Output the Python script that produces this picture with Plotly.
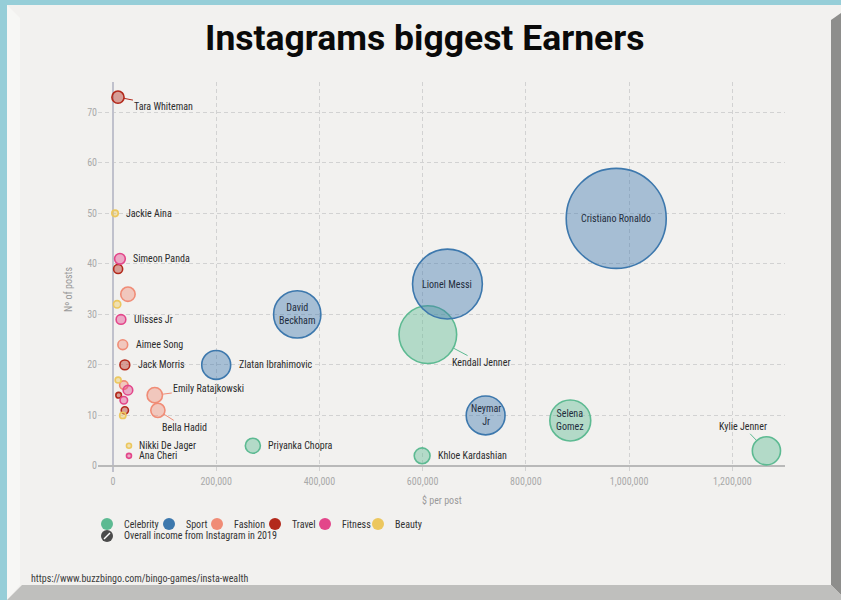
import plotly.graph_objects as go

# ---------------- data ----------------
names = ["Cristiano Ronaldo", "Lionel Messi", "Kendall Jenner", "David Beckham",
         "Selena Gomez", "Neymar Jr", "Zlatan Ibrahimovic", "Kylie Jenner",
         "Khloe Kardashian", "Priyanka Chopra", "Emily Ratajkowski", "Bella Hadid",
         "Tara Whiteman", "Jackie Aina", "Simeon Panda", "", "", "",
         "Ulisses Jr", "Aimee Song", "Jack Morris", "", "", "", "", "", "", "",
         "Nikki De Jager", "Ana Cheri"]
price_per_post = [975000, 648000, 610000, 357000,
                  886000, 722000, 200000, 1266000,
                  599000, 271000, 81000, 87000,
                  9700, 4000, 13500, 10000, 29000, 8000,
                  15500, 19000, 23000, 10000, 21000, 29000, 11000, 21000, 23000, 19000,
                  31000, 31000]
posts = [49, 36, 26, 30,
         9, 10, 20, 3,
         2, 4, 14, 11,
         73, 50, 41, 39, 34, 32,
         29, 24, 20, 17, 16, 15, 14, 13, 11, 10,
         4, 2]
income_musd = [47.8, 23.3, 15.9, 10.7,
               8.0, 7.2, 4.0, 3.8,
               1.2, 1.08, 1.13, 0.96,
               0.71, 0.2, 0.55, 0.39, 0.99, 0.26,
               0.45, 0.46, 0.46, 0.17, 0.34, 0.44, 0.15, 0.27, 0.25, 0.19,
               0.12, 0.06]
category = ["Sport", "Sport", "Celebrity", "Sport",
            "Celebrity", "Sport", "Sport", "Celebrity",
            "Celebrity", "Celebrity", "Fashion", "Fashion",
            "Travel", "Beauty", "Fitness", "Travel", "Fashion", "Beauty",
            "Fitness", "Fashion", "Travel", "Beauty", "Fashion", "Fitness", "Travel", "Fitness", "Travel", "Beauty",
            "Beauty", "Fitness"]

categories = ["Celebrity", "Sport", "Fashion", "Travel", "Fitness", "Beauty"]
size_legend_label = "Overall income from Instagram in 2019"
x_ticks = [0, 200000, 400000, 600000, 800000, 1000000, 1200000]
y_ticks = [0, 10, 20, 30, 40, 50, 60, 70]

# ---------------- styles ----------------
line_col = {"Celebrity": "#5dba92", "Sport": "#3d78ad", "Fashion": "#f08c76",
            "Travel": "#b3291b", "Fitness": "#e3468a", "Beauty": "#ecc75e"}
fill_col = {"Celebrity": "rgba(93,186,146,0.42)", "Sport": "rgba(61,120,173,0.42)",
            "Fashion": "rgba(240,140,118,0.42)", "Travel": "rgba(179,41,27,0.42)",
            "Fitness": "rgba(227,70,138,0.42)", "Beauty": "rgba(236,199,94,0.42)"}

W, H = 841, 600
ML, MR, MT, MB = 98, 56, 82, 128
PW, PH = W - ML - MR, H - MT - MB
MAX_R = 50
SIZEREF = 2 * max(income_musd) / (2 * MAX_R) ** 2
SIZEMIN = 2.5


def px_x(px):
    return (px - ML) / PW


def px_y(py):
    return 1 - (py - MT) / PH


def radius(v):
    return max((v / (2 * SIZEREF)) ** 0.5, SIZEMIN)


FONT = "Liberation Sans Narrow, Roboto Condensed, DejaVu Sans Condensed, Arial Narrow, sans-serif"
TITLE_FONT = "Roboto, Liberation Sans, sans-serif"

fig = go.Figure()

for c in categories:
    idx = [i for i, k in enumerate(category) if k == c]
    fig.add_trace(go.Scatter(
        x=[price_per_post[i] for i in idx],
        y=[posts[i] for i in idx],
        text=[names[i] for i in idx],
        name=c,
        mode="markers",
        marker=dict(size=[income_musd[i] for i in idx], sizemode="area",
                    sizeref=SIZEREF, sizemin=SIZEMIN, opacity=1,
                    color=fill_col[c], line=dict(color=line_col[c], width=1.6)),
        showlegend=False, hoverinfo="text",
    ))

# ---------------- labels ----------------
inside = {"Cristiano Ronaldo": "Cristiano Ronaldo", "Lionel Messi": "Lionel Messi",
          "David Beckham": "David<br>Beckham", "Neymar Jr": "Neymar<br>Jr",
          "Selena Gomez": "Selena<br>Gomez"}
arrowed = {"Kendall Jenner": (53, 28), "Kylie Jenner": (-23, -24),
           "Tara Whiteman": (46, 9), "Emily Ratajkowski": (54, -7),
           "Bella Hadid": (27, 17)}

for i, n in enumerate(names):
    if not n:
        continue
    r = radius(income_musd[i])
    if n in inside:
        fig.add_annotation(x=price_per_post[i], y=posts[i], text=inside[n], showarrow=False,
                           font=dict(size=10, color="#1f2d3d", family=FONT))
    elif n in arrowed:
        ax, ay = arrowed[n]
        fig.add_annotation(x=price_per_post[i], y=posts[i], text=n, showarrow=True,
                           ax=ax, ay=ay, arrowhead=0, arrowwidth=1,
                           arrowcolor=line_col[category[i]], standoff=r,
                           font=dict(size=10, color="#2b2b2b", family=FONT))
    else:
        fig.add_annotation(x=price_per_post[i], y=posts[i], text=n, showarrow=False,
                           xanchor="left", xshift=r + 6,
                           font=dict(size=10, color="#2b2b2b", family=FONT))

# ---------------- frame ----------------
CARD = "#f2f1ef"


def poly(pts, color):
    d = "M " + " L ".join(f"{px_x(a):.5f},{px_y(b):.5f}" for a, b in pts) + " Z"
    fig.add_shape(type="path", path=d, xref="paper", yref="paper",
                  fillcolor=color, line=dict(width=0), layer="below")


poly([(7, 5), (841, 5), (841, 600), (7, 600)], CARD)
poly([(7, 5), (20, 18), (20, 585), (7, 600)], "#f7f7f5")
poly([(831, 20), (841, 13), (841, 595), (831, 585)], "#8e8e8c")
poly([(22, 585), (831, 585), (841, 595), (841, 600), (7, 600)], "#bfbfbd")


def text_px(x, y, text, size, color, family=FONT, xanchor="left", angle=0):
    fig.add_annotation(xref="paper", yref="paper", x=px_x(x), y=px_y(y),
                       xanchor=xanchor, yanchor="middle", text=text, showarrow=False,
                       textangle=angle, font=dict(size=size, color=color, family=family))


def dot_px(x, y, d, color):
    fig.add_shape(type="circle", xref="paper", yref="paper",
                  xsizemode="pixel", ysizemode="pixel",
                  xanchor=px_x(x), yanchor=px_y(y),
                  x0=-d / 2, x1=d / 2, y0=-d / 2, y1=d / 2,
                  fillcolor=color, line=dict(width=0))


# title, axis titles, source
text_px(424, 38, "Instagrams biggest Earners", 35.5, "#0a0a0a", TITLE_FONT, "center")
fig.layout.annotations[-1].font.weight = 700
text_px(442, 500, "$ per post", 10, "#9a9a9a", FONT, "center")
text_px(68, 290, "Nº of posts", 10, "#9a9a9a", FONT, "center", -90)
text_px(29, 578, "https://www.buzzbingo.com/bingo-games/insta-wealth", 10, "#3a3a3a")

# legend (drawn by hand to match spacing)
legend_icon_x = [107, 169, 217, 275, 325, 378]
for c, lx in zip(categories, legend_icon_x):
    dot_px(lx, 524, 12, line_col[c])
    text_px(lx + 15, 524, c, 10, "#333333")
dot_px(107, 536, 12, "#4b4b4b")
fig.add_shape(type="line", xref="paper", yref="paper",
              xsizemode="pixel", ysizemode="pixel",
              xanchor=px_x(107), yanchor=px_y(536),
              x0=-3, x1=3, y0=-3, y1=3, line=dict(color="white", width=1.5))
text_px(122, 535, size_legend_label, 10, "#333333")

fig.update_layout(
    width=W, height=H, autosize=False,
    margin=dict(l=ML, r=MR, t=MT, b=MB),
    paper_bgcolor="#96ced8", plot_bgcolor="rgba(0,0,0,0)",
    font=dict(family=FONT, size=10, color="#333"),
    xaxis=dict(range=[-29000, 1302000], tickvals=x_ticks, tickformat=",",
               showgrid=True, gridcolor="#d2d2d2", griddash="4px,3px", gridwidth=1,
               zeroline=True, zerolinecolor="#c0c1cc", zerolinewidth=1.5,
               showline=False, ticks="", ticklabelstandoff=2,
               tickfont=dict(size=10, color="#a9a9a9")),
    yaxis=dict(range=[-1.2, 76], tickvals=y_ticks,
               showgrid=True, gridcolor="#d2d2d2", griddash="4px,3px", gridwidth=1,
               zeroline=True, zerolinecolor="#b9b9b9", zerolinewidth=2,
               showline=False, ticks="", tickfont=dict(size=10, color="#a9a9a9")),
    showlegend=False,
)

fig.write_html("out.html")
